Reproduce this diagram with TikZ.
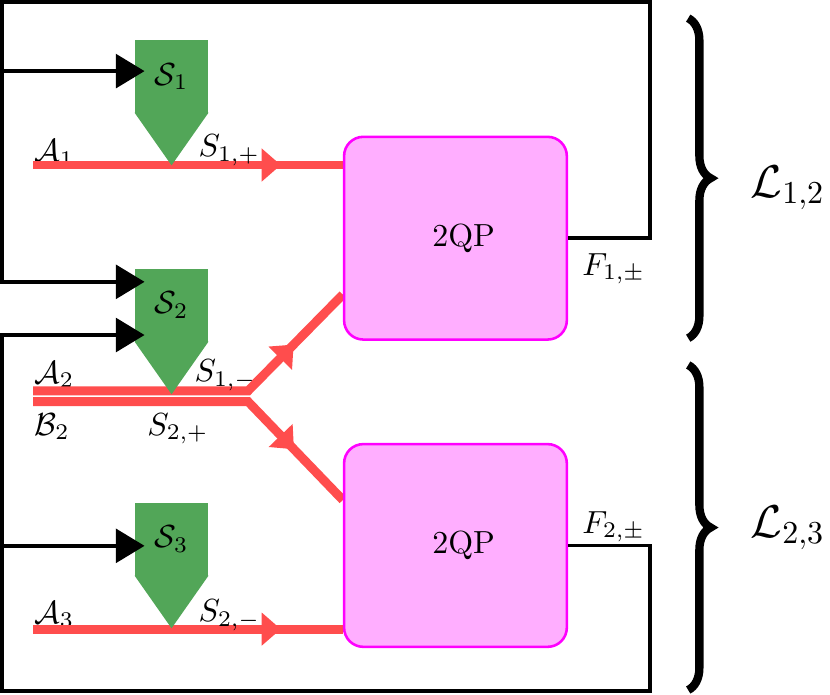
\documentclass[tikz,border=0pt]{standalone}
\usetikzlibrary{positioning, calc, arrows.meta, backgrounds, decorations.pathreplacing, decorations.markings}
\definecolor{sgreen}{RGB}{82,166,88}
\definecolor{beamred}{RGB}{255,77,77}
\definecolor{qpline}{RGB}{255,0,255}
\definecolor{qpfill}{RGB}{255,174,255}
\tikzset{
    qpbox/.style={draw=qpline, fill=qpfill, line width=0.8pt, rounded corners=6pt, minimum width=2.45cm, minimum height=2.23cm},
    sbody/.style={fill=sgreen, minimum width=0.8cm, minimum height=0.8cm, inner sep=0pt},
    beam/.style={color=beamred, line width=2.8pt, postaction={decorate},
        decoration={markings, mark=at position 0.8 with {\arrow{Triangle[length=6pt,width=10pt]}}}},
    fb/.style={line width=1.1pt, -{Triangle[length=9pt,width=10.6pt]}},
    lbl/.style={anchor=base west, inner sep=0pt},
    grp/.style={decorate, decoration={brace, amplitude=7pt}, line width=2.6pt},
}
\begin{document}
\begin{tikzpicture}
    \useasboundingbox (0,0) rectangle (9.13,-7.634);

    \node[qpbox] (qp1) at (5.01,-2.62) {\hspace*{0.18cm}2QP}; %upper
    \node[qpbox] (qp2) at (5.01,-6.00) {\hspace*{0.18cm}2QP}; %lower

    \coordinate (a1) at (0.363,-1.815);
    \coordinate (a2) at (0.363,-4.30);
    \coordinate (b2) at (0.363,-4.417);
    \coordinate (a3) at (0.363,-6.92);
    \coordinate (j1) at (2.728,-4.30);
    \coordinate (j2) at (2.728,-4.417);

    \begin{scope}[on background layer]
    \node[lbl] (la1) at (0.37,-1.78) {$\mathcal{A}_1$};
    \node[lbl] (la2) at (0.37,-4.213) {$\mathcal{A}_2$};
    \node[lbl] (la3) at (0.37,-6.855) {$\mathcal{A}_3$};
    \draw[beam] (a1) -- (a1 -| qp1.west); %A1
    \draw[beam] (a2) -- (j1) -- ([yshift=-0.62cm]qp1.west); %A2
    \draw[beam] (b2) -- (j2) -- ([yshift=0.5cm]qp2.west); %B2
    \draw[beam] (a3) -- (a3 -| qp2.west); %A3
    \end{scope}

    \node[sbody] (s1) at (1.887,-0.842) {$\mathcal{S}_1$};
    \fill[sgreen] ([yshift=0.01cm]s1.south west) -- ([yshift=0.01cm]s1.south east) -- ([yshift=-0.57cm]s1.south) -- cycle;
    \node[sbody] (s2) at (1.887,-3.36) {$\mathcal{S}_2$};
    \fill[sgreen] ([yshift=0.01cm]s2.south west) -- ([yshift=0.01cm]s2.south east) -- ([yshift=-0.57cm]s2.south) -- cycle;
    \node[sbody] (s3) at (1.887,-5.934) {$\mathcal{S}_3$};
    \fill[sgreen] ([yshift=0.01cm]s3.south west) -- ([yshift=0.01cm]s3.south east) -- ([yshift=-0.57cm]s3.south) -- cycle;

    \coordinate (tr) at (7.15,-0.02);
    \coordinate (tl) at (0.02,-0.02);
    \coordinate (br) at (7.15,-7.6);
    \coordinate (bl) at (0.02,-7.6);
    \coordinate (s1in) at ([xshift=0.11cm,yshift=0.06cm]s1.west);
    \coordinate (s2up) at ([xshift=0.11cm,yshift=0.26cm]s2.west);
    \coordinate (s2lo) at ([xshift=0.11cm,yshift=-0.325cm]s2.west);
    \coordinate (s3in) at ([xshift=0.11cm,yshift=-0.07cm]s3.west);

    \draw[fb] (qp1.east) -| (tr) -- (tl) |- (s2up); %upper loop
    \draw[fb] (tl |- s1in) -- (s1in);
    \draw[fb] (qp2.east) -| (br) -- (bl) |- (s2lo); %lower loop
    \draw[fb] (bl |- s3in) -- (s3in);

    \node[lbl] (lb2) at (0.37,-4.785) {$\mathcal{B}_2$};
    \node[lbl] (l1p) at (2.178,-1.723) {$S_{1,+}$};
    \node[lbl] (l1m) at (2.134,-4.198) {$S_{1,-}$};
    \node[lbl] (l2p) at (1.613,-4.785) {$S_{2,+}$};
    \node[lbl] (l2m) at (2.178,-6.838) {$S_{2,-}$};
    \node[lbl] (lf1) at (6.40,-3.025) {$F_{1,\pm}$};
    \node[lbl] (lf2) at (6.40,-5.863) {$F_{2,\pm}$};

    \draw[grp] (7.57,-0.2) -- (7.57,-3.72);
    \draw[grp] (7.57,-4.015) -- (7.57,-7.59);
    \node[lbl] (ll1) at (8.25,-2.167) {\Large $\mathcal{L}_{1,2}$};
    \node[lbl] (ll2) at (8.25,-5.907) {\Large $\mathcal{L}_{2,3}$};
\end{tikzpicture}
\end{document}
